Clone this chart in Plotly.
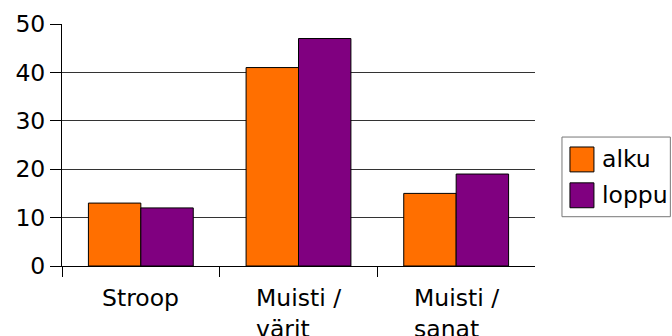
import plotly.graph_objects as go

categories = ["Stroop", "Muisti /<br>värit", "Muisti /<br>sanat"]
series_names = ["alku", "loppu"]
alku = [13, 41, 15]
loppu = [12, 47, 19]
colors = ["#ff6f00", "#800080"]
y_ticks = [0, 10, 20, 30, 40, 50]

W, H = 672, 336
L, R, T, B = 61.5, 535, 23.5, 266.5
FONT = "DejaVu Sans"
FS = 23.5


def px_x(x):
    return (x - L) / (R - L)


def px_y(y):
    return (B - y) / (B - T)


positions = list(range(len(categories)))

fig = go.Figure()
for name, vals, col in zip(series_names, [alku, loppu], colors):
    fig.add_trace(go.Bar(
        x=positions, y=vals, name=name,
        marker=dict(color=col, line=dict(color="#000000", width=1)),
        showlegend=False,
    ))

fig.update_layout(
    width=W, height=H,
    margin=dict(l=L, r=W - R, t=T, b=H - B, pad=0, autoexpand=False),
    paper_bgcolor="white", plot_bgcolor="white",
    barmode="group", bargap=0.335, bargroupgap=0,
    font=dict(family=FONT, size=FS, color="#000000"),
)
fig.update_xaxes(
    range=[-0.5, len(categories) - 0.5], automargin=False,
    tickmode="array", tickvals=[p - 0.5 for p in positions],
    ticktext=["" for _ in positions],
    ticks="outside", ticklen=10, tickcolor="#000000", tickwidth=1,
    showline=True, linecolor="#000000", linewidth=1,
    showgrid=False, zeroline=False, showticklabels=False,
)
fig.update_yaxes(
    range=[0, 50], tickmode="array", tickvals=y_ticks, automargin=False,
    ticks="outside", ticklen=11, tickcolor="#000000", tickwidth=1,
    showline=True, linecolor="#000000", linewidth=1,
    showgrid=True, gridcolor="#333333", gridwidth=1,
    zeroline=False, tickfont=dict(size=FS),
)

# category labels, block centred under each band, lines left-aligned
for p, cat in zip(positions, categories):
    fig.add_annotation(
        x=p, xref="x", y=px_y(283), yref="paper",
        text=cat, showarrow=False, xanchor="center", yanchor="top",
        align="left", font=dict(family=FONT, size=FS, color="#000000"),
    )

# legend box
fig.add_shape(type="rect", xref="paper", yref="paper",
              x0=px_x(562), x1=px_x(670.5), y0=px_y(137), y1=px_y(217),
              line=dict(color="#777777", width=1), fillcolor="white")
for i, (name, col) in enumerate(zip(series_names, colors)):
    top = 147 + i * 36
    fig.add_shape(type="rect", xref="paper", yref="paper",
                  x0=px_x(570), x1=px_x(594), y0=px_y(top), y1=px_y(top + 25),
                  line=dict(color="#000000", width=1), fillcolor=col)
    fig.add_annotation(
        x=px_x(600), xref="paper", y=px_y(top + 12.5), yref="paper",
        text=name, showarrow=False, xanchor="left", yanchor="middle",
        font=dict(family=FONT, size=FS, color="#000000"),
    )

fig.write_html("out.html")
